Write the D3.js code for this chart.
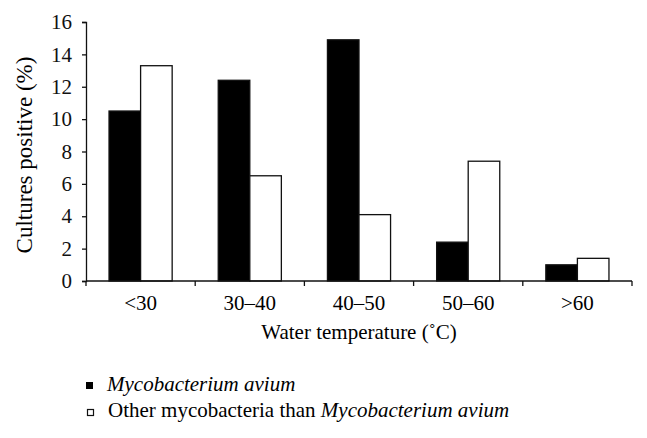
<!DOCTYPE html>
<html>
<head>
<meta charset="utf-8">
<script src="https://cdn.jsdelivr.net/npm/d3@7"></script>
<style>
  .ser { font-family: 'Liberation Serif'; font-size: 23px; }
</style>
</head>
<body style="margin:0">
<script>
const categories = ["<30", "30\u201340", "40\u201350", "50\u201360", ">60"];
const seriesNames = ["Mycobacterium avium", "Other mycobacteria than Mycobacterium avium"];
const avium = [10.5, 12.4, 14.9, 2.4, 1.0];
const other = [13.3, 6.5, 4.1, 7.4, 1.4];
const yTicks = [0, 2, 4, 6, 8, 10, 12, 14, 16];

const width = 647, height = 438;
const margin = { left: 86, right: 15, top: 22, bottom: 157 };
const INK = "#111";

const svg = d3.select("body").append("svg").attr("width", width).attr("height", height);

const x = d3.scaleBand().domain(categories).range([margin.left, width - margin.right]).paddingInner(0).paddingOuter(0);
const y = d3.scaleLinear().domain([0, 16]).range([height - margin.bottom, margin.top]);
const inner = d3.scaleBand().domain([0, 1]).range([0, x.bandwidth()]).paddingOuter(0.73).paddingInner(0);

const rows = categories.map((c, i) => ({ c, vals: [avium[i], other[i]] }));

svg.append("g").selectAll("g").data(rows).join("g")
  .attr("transform", d => `translate(${x(d.c)},0)`)
  .selectAll("rect").data(d => d.vals.map((v, k) => ({ v, k }))).join("rect")
  .attr("x", d => inner(d.k))
  .attr("width", inner.bandwidth())
  .attr("y", d => y(d.v))
  .attr("height", d => y(0) - y(d.v))
  .attr("fill", d => d.k === 0 ? "#000" : "#fff")
  .attr("stroke", INK)
  .attr("stroke-width", 1.3);

// y axis: attribute only
const yAxis = svg.append("g").attr("transform", `translate(${margin.left},0)`)
  .call(d3.axisLeft(y).tickValues(yTicks).tickSize(4).tickPadding(10));
yAxis.attr("font-family", "Liberation Serif").attr("font-size", 21);
yAxis.select(".domain").attr("stroke", INK).attr("stroke-width", 1.3);
yAxis.selectAll(".tick line").attr("stroke", INK).attr("stroke-width", 1.3);
yAxis.selectAll("text").attr("fill", INK);

// x axis with boundary ticks: Times New Roman style
const xAxis = svg.append("g").attr("transform", `translate(0,${y(0)})`);
xAxis.append("line").attr("x1", margin.left).attr("x2", width - margin.right).attr("stroke", INK).attr("stroke-width", 1.3);
const bounds = categories.map(c => x(c)).concat([x(categories[categories.length - 1]) + x.bandwidth()]);
xAxis.selectAll("line.tk").data(bounds).join("line").attr("class", "tk")
  .attr("x1", d => d).attr("x2", d => d).attr("y1", 0).attr("y2", 5).attr("stroke", INK).attr("stroke-width", 1.3);
xAxis.selectAll("text").data(categories).join("text")
  .attr("x", d => x(d) + x.bandwidth() / 2).attr("y", 29)
  .attr("text-anchor", "middle")
  .style("font-family", "'Times New Roman'").style("font-size", "21px")
  .text(d => d);

// axis titles
svg.append("text").attr("x", (margin.left + width - margin.right) / 2).attr("y", 339)
  .attr("text-anchor", "middle")
  .attr("style", "font-family:'Liberation Serif';font-size:21px")
  .text("Water temperature (\u02DAC)");
svg.append("text").attr("class", "ser").attr("transform", `translate(32,155) rotate(-90)`)
  .attr("text-anchor", "middle").text("Cultures positive (%)");

// legend
const leg = svg.append("g").style("font-family", "'Liberation Serif'").style("font-size", "21px");
leg.append("rect").attr("x", 86).attr("y", 382).attr("width", 7).attr("height", 7).attr("fill", "#000");
leg.append("text").attr("x", 107).attr("y", 391).style("font-style", "italic").text(seriesNames[0]);
leg.append("rect").attr("x", 87.5).attr("y", 409.5).attr("width", 6).attr("height", 6).attr("fill", "#fff").attr("stroke", INK).attr("stroke-width", 1.2);
const t2 = leg.append("text").attr("x", 108).attr("y", 417);
t2.append("tspan").text("Other mycobacteria than ");
t2.append("tspan").style("font-style", "italic").text("Mycobacterium avium");
</script>
</body>
</html>
